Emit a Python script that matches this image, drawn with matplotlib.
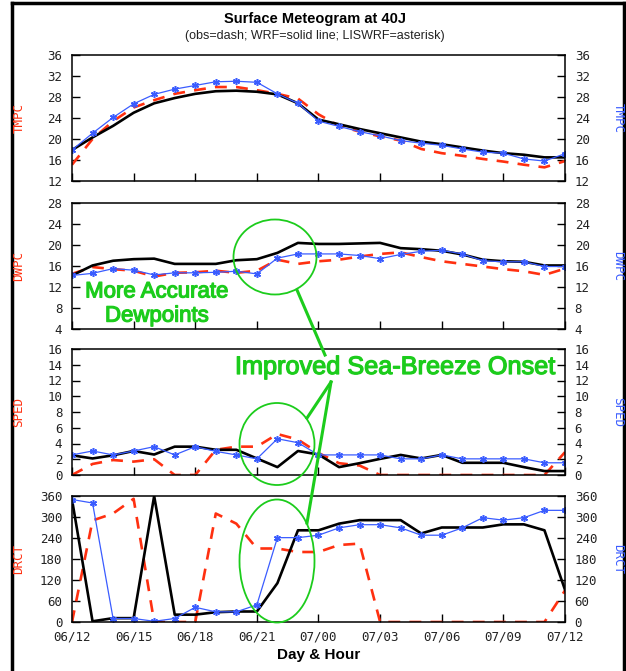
import numpy as np
import matplotlib
matplotlib.use('Agg')
import matplotlib.pyplot as plt
import matplotlib.patheffects as pe
from matplotlib.patches import Ellipse
from matplotlib.lines import Line2D

# hours since 06 UTC 12th, hourly
hours = list(range(25))
tick_hours = [0, 3, 6, 9, 12, 15, 18, 21, 24]
tick_labels = ['06/12', '06/15', '06/18', '06/21', '07/00', '07/03', '07/06', '07/09', '07/12']

tmpc_obs = [15.1, 20.0, 23.4, 26.0, 27.4, 28.6, 29.3, 29.9, 29.9, 29.3, 28.6, 27.7, 24.7,
            22.5, 21.4, 20.5, 19.7, 18.1, 17.3, 16.8, 16.2, 15.7, 15.1, 14.6, 15.8]
tmpc_wrf = [17.9, 20.3, 22.5, 25.0, 26.8, 27.8, 28.6, 29.1, 29.2, 29.0, 28.5, 26.8, 23.7,
            22.8, 21.9, 21.1, 20.3, 19.5, 19.0, 18.4, 17.8, 17.3, 17.0, 16.5, 16.5]
tmpc_lis = [17.9, 21.1, 24.1, 26.7, 28.5, 29.5, 30.2, 30.9, 31.0, 30.8, 28.6, 26.8, 23.4,
            22.4, 21.4, 20.6, 19.7, 19.2, 18.8, 18.1, 17.5, 17.3, 16.2, 15.8, 17.2]

dwpc_obs = [14.5, 15.8, 15.4, 15.1, 14.0, 14.7, 14.8, 15.1, 14.7, 15.1, 17.2, 16.4, 16.9,
            17.2, 17.8, 18.3, 18.6, 17.7, 16.9, 16.4, 15.9, 15.4, 15.0, 14.3, 15.5]
dwpc_wrf = [14.2, 16.1, 17.0, 17.3, 17.4, 16.4, 16.4, 16.4, 17.1, 17.3, 18.5, 20.4, 20.2,
            20.2, 20.3, 20.4, 19.4, 19.2, 18.9, 18.2, 17.2, 16.9, 16.8, 16.1, 16.1]
dwpc_lis = [14.2, 14.6, 15.5, 15.2, 14.3, 14.7, 14.7, 14.8, 15.0, 14.5, 17.5, 18.3, 18.3,
            18.3, 18.0, 17.4, 18.2, 18.8, 19.0, 18.3, 17.0, 16.8, 16.8, 15.9, 15.9]

sped_obs = [0.0, 1.4, 1.9, 1.7, 2.0, 0.0, 0.0, 3.2, 3.6, 3.6, 5.2, 4.5, 2.8,
            1.5, 1.2, 0.0, 0.0, 0.0, 0.0, 0.0, 0.0, 0.0, 0.0, 0.0, 2.9]
sped_wrf = [2.5, 2.1, 2.5, 3.05, 2.6, 3.6, 3.6, 3.2, 3.2, 2.1, 1.0, 3.05, 2.6,
            1.0, 1.5, 2.05, 2.55, 2.1, 2.55, 1.55, 1.55, 1.55, 1.0, 0.5, 0.5]
sped_lis = [2.55, 3.05, 2.55, 3.05, 3.6, 2.55, 3.6, 3.0, 2.55, 2.05, 4.6, 4.1, 2.55,
            2.55, 2.55, 2.55, 2.05, 2.05, 2.55, 2.05, 2.05, 2.05, 2.05, 1.55, 1.55]

drct_obs = [0, 290, 310, 352, 0, 0, 0, 310, 281, 210, 210, 200, 200,
            220, 224, 0, 0, 0, 0, 0, 0, 0, 0, 0, 90]
drct_wrf = [350, 2, 11, 11, 360, 21, 21, 28, 30, 30, 111, 262, 262,
            281, 291, 291, 291, 253, 270, 270, 270, 279, 279, 262, 92]
drct_lis = [350, 340, 10, 10, 2, 10, 42, 29, 29, 49, 241, 241, 248,
            269, 278, 278, 269, 248, 248, 269, 298, 291, 298, 319, 319]

panels = [
    ('TMPC', tmpc_obs, tmpc_wrf, tmpc_lis, 12, 36, 4),
    ('DWPC', dwpc_obs, dwpc_wrf, dwpc_lis, 4, 28, 4),
    ('SPED', sped_obs, sped_wrf, sped_lis, 0, 16, 2),
    ('DRCT', drct_obs, drct_wrf, drct_lis, 0, 360, 60),
]

W, H = 626, 671
RED = '#ff3010'
BLUE = '#3a5cff'
GREEN = '#1ccc1c'
MONO = 'DejaVu Sans Mono'

fig = plt.figure(figsize=(W / 100, H / 100), dpi=100)

# panel extents in pixels from the top
tops = [55, 203, 349, 496]
pheight = 126
left_px, right_px = 72, 565

axes = []
for i, (name, obs, wrf, lis, lo, hi, step) in enumerate(panels):
    top = tops[i]
    ax = fig.add_axes([left_px / W, 1 - (top + pheight) / H,
                       (right_px - left_px) / W, pheight / H])
    ax.plot(hours, obs, color=RED, lw=1.9, dashes=(4.5, 3.5))
    ax.plot(hours, wrf, color='black', lw=1.9)
    ax.plot(hours, lis, color=BLUE, lw=0.9, marker=(6, 2, 0), ms=5, mew=1.1)
    ax.set_xlim(0, 24)
    ax.set_ylim(lo, hi)
    ax.set_yticks(np.arange(lo, hi + step / 2, step))
    ax.set_xticks(tick_hours)
    ax.tick_params(direction='in', length=6, width=1, left=True, right=True,
                   labelleft=True, labelright=True, top=False)
    ax.tick_params(axis='y', pad=7)
    for lab in ax.get_yticklabels():
        lab.set_fontfamily(MONO)
        lab.set_fontsize(9)
        lab.set_color('#222222')
    if i == 3:
        ax.set_xticklabels(tick_labels, fontfamily=MONO, fontsize=9, color='#222222')
        ax.tick_params(axis='x', pad=6)
        ax.set_xlabel('Day & Hour', fontfamily='Liberation Sans', fontweight='bold',
                      fontsize=11, labelpad=3)
    else:
        ax.set_xticklabels([])
    for sp in ax.spines.values():
        sp.set_linewidth(1.1)
    axes.append(ax)

# overlay in pixel coordinates for labels, frame and annotations
ov = fig.add_axes([0, 0, 1, 1], zorder=10)
ov.set_xlim(0, W)
ov.set_ylim(H, 0)
ov.axis('off')
ov.patch.set_alpha(0)

for i, p in enumerate(panels):
    cy = tops[i] + pheight / 2
    ov.text(19, cy, p[0], color=RED, rotation=90, ha='center', va='center',
            fontfamily=MONO, fontsize=9)
    ov.text(618, cy, p[0], color=BLUE, rotation=-90, ha='center', va='center',
            fontfamily=MONO, fontsize=9)

ov.text(315, 19, 'Surface Meteogram at 40J', ha='center', va='center',
        fontfamily='Liberation Sans', fontweight='bold', fontsize=10.5)
ov.text(315, 36, '(obs=dash; WRF=solid line; LISWRF=asterisk)', ha='center', va='center',
        fontfamily='Liberation Sans', fontsize=9, color='#222222')

# page frame
ov.add_line(Line2D([12, 12], [3, H], color='black', lw=2.5))
ov.add_line(Line2D([12, 624], [3, 3], color='black', lw=2.5))
ov.add_line(Line2D([624, 624], [3, H], color='black', lw=2.5))

# annotations
ov.add_patch(Ellipse((275, 257), 83, 75, fill=False, ec=GREEN, lw=1.3))
ov.add_patch(Ellipse((277, 444), 75, 82, fill=False, ec=GREEN, lw=1.3))
ov.add_patch(Ellipse((277, 561), 75, 123, fill=False, ec=GREEN, lw=1.3))
ov.add_line(Line2D([297, 325], [290, 355], color=GREEN, lw=2.2))
ov.add_line(Line2D([331, 307], [382, 418], color=GREEN, lw=2.2))
ov.add_line(Line2D([331, 307], [382, 523], color=GREEN, lw=2.2))

thick = [pe.withStroke(linewidth=0.9, foreground=GREEN)]
ov.text(157, 304, 'More Accurate\nDewpoints', color=GREEN, ha='center', va='center',
        fontfamily='Liberation Sans', fontsize=16, linespacing=1.2, path_effects=thick)
ov.text(395, 367, 'Improved Sea-Breeze Onset', color=GREEN, ha='center', va='center',
        fontfamily='Liberation Sans', fontsize=18.2, path_effects=thick)

fig.savefig('out.png', dpi=100)
